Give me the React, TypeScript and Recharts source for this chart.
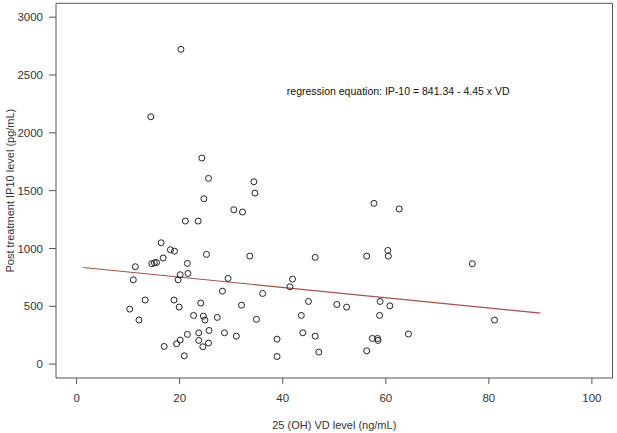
import React from "react";
import {
  ScatterChart,
  Scatter,
  XAxis,
  YAxis,
  ReferenceArea,
  ReferenceLine,
  ReferenceDot,
} from "recharts";

// 25 (OH) VD level (ng/mL)
const vd = [
  20.25, 14.4, 24.3, 25.6, 24.7, 34.4, 34.6, 30.5, 32.2, 21.1, 23.6, 16.4,
  18.2, 19.0, 25.2, 33.6, 11.4, 14.6, 15.1, 15.5, 16.8, 21.5, 20.1, 21.6,
  19.7, 11.0, 29.4, 28.3, 36.1, 41.4, 41.9, 46.3, 13.3, 18.9, 24.1, 19.9,
  10.3, 32.0, 45.0, 12.1, 22.7, 24.6, 24.9, 27.3, 34.9, 43.6, 25.7, 23.7,
  28.7, 31.0, 43.9, 46.3, 21.5, 20.1, 23.7, 19.4, 25.6, 38.9, 17.0, 24.5,
  20.9, 38.9, 47.0, 57.7, 62.6, 56.3, 60.4, 60.5, 76.8, 50.5, 52.4, 58.9,
  60.8, 58.8, 81.1, 57.4, 58.4, 58.5, 64.4, 56.3,
];
// Post treatment IP10 level (pg/mL)
const ip10 = [
  2722, 2139, 1782, 1606, 1430, 1577, 1479, 1335, 1315, 1237, 1237, 1049,
  989, 977, 949, 934, 842, 868, 876, 879, 917, 871, 773, 784,
  729, 729, 741, 631, 611, 669, 735, 923, 554, 554, 528, 493,
  476, 510, 542, 381, 421, 415, 381, 404, 387, 421, 291, 271,
  271, 242, 271, 242, 257, 208, 205, 176, 182, 216, 153, 150,
  72, 66, 104, 1390, 1341, 934, 983, 934, 868, 516, 493, 542,
  504, 421, 381, 222, 222, 205, 260, 115,
];

const xTicks = [0, 20, 40, 60, 80, 100];
const yTicks = [0, 500, 1000, 1500, 2000, 2500, 3000];

const intercept = 841.34;
const slope = -4.45;
const fitRange = [1.3, 90];

const points = vd.map((x, i) => ({ x, y: ip10[i] }));
const fitLine = fitRange.map((x) => ({ x, y: intercept + slope * x }));

const font = "'Liberation Sans', Arial, sans-serif";
const tickStyle = { fontSize: 11.5, fill: "#333", fontFamily: font };

const OpenCircle = (props: any) => (
  <circle cx={props.cx} cy={props.cy} r={3} fill="none" stroke="#222" strokeWidth={1} />
);

const EquationLabel = (props: any) => {
  const vb = props.viewBox || {};
  return (
    <text
      x={vb.x}
      y={vb.y}
      dy="0.35em"
      textAnchor="start"
      fontSize={10.5}
      fontFamily={font}
      fill="#111"
    >
      regression equation: IP-10 = 841.34 - 4.45 x VD
    </text>
  );
};

export default function App() {
  return (
    <div style={{ width: 617, height: 433, background: "#fff" }}>
      <style>{`body{margin:0}`}</style>
      <ScatterChart
        width={617}
        height={433}
        margin={{ top: 3.3, right: 4.5, left: 0, bottom: 0 }}
      >
        <XAxis
          type="number"
          dataKey="x"
          domain={[-4, 104]}
          ticks={xTicks}
          axisLine={false}
          tickLine={{ stroke: "#555" }}
          tickSize={6}
          tickMargin={10}
          tick={tickStyle}
          height={55}
          label={{
            value: "25 (OH) VD level (ng/mL)",
            position: "insideBottom",
            offset: 4,
            style: { fontSize: 11, fill: "#333", fontFamily: font },
          }}
        />
        <YAxis
          type="number"
          dataKey="y"
          domain={[-120, 3120]}
          ticks={yTicks}
          axisLine={false}
          tickLine={{ stroke: "#555" }}
          tickSize={7}
          tickMargin={6}
          tick={tickStyle}
          width={56}
          label={{
            value: "Post treatment IP10 level (pg/mL)",
            angle: -90,
            position: "insideLeft",
            offset: 10,
            style: {
              fontSize: 11,
              fill: "#333",
              fontFamily: font,
              textAnchor: "middle",
            },
          }}
        />
        <ReferenceArea
          x1={-4}
          x2={104}
          y1={-120}
          y2={3120}
          fill="none"
          stroke="#555"
          strokeWidth={1}
          ifOverflow="visible"
        />
        <ReferenceLine
          segment={fitLine}
          stroke="#a84f4a"
          strokeWidth={1.2}
          ifOverflow="visible"
        />
        <Scatter data={points} shape={OpenCircle} isAnimationActive={false} />
        <ReferenceDot
          x={40.8}
          y={2355}
          r={0}
          fill="none"
          stroke="none"
          label={<EquationLabel />}
        />
      </ScatterChart>
    </div>
  );
}
